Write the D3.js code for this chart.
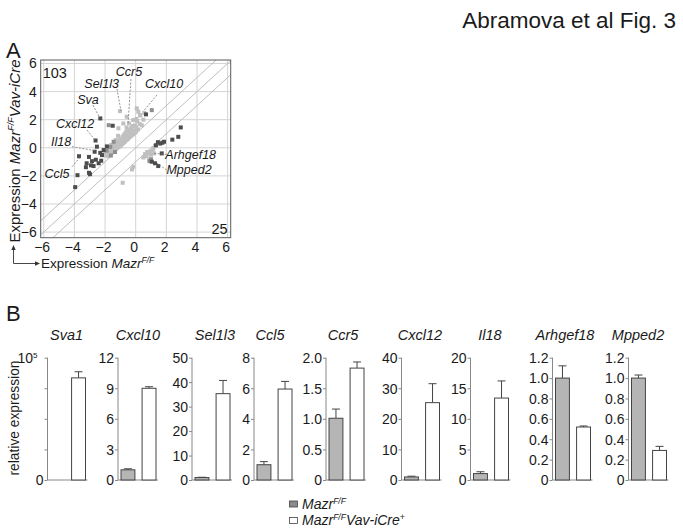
<!DOCTYPE html>
<html><head><meta charset="utf-8">
<script src="https://cdn.jsdelivr.net/npm/d3@7"></script>
<style>
body{margin:0;background:#fff}
svg{font-family:Arial,"Liberation Sans",Helvetica,sans-serif}
</style>
</head><body>
<svg id="c" width="683" height="532"></svg>
<script>
// ---------- Panel A data ----------
const scatterTicks = [-6, -4, -2, 0, 2, 4, 6];
const diagonalOffsets = [-1, 0, 1];
const darkPoints = [
  [-2.31,2.09],[-2.62,0.52],[-2.53,0.08],[-2.68,-0.28],[-2.31,-0.36],[-2.09,-0.16],
  [-3.70,-0.60],[-3.05,-0.65],[-3.20,-1.10],[-2.92,-1.25],[-3.25,-1.38],[-3.05,-1.78],
  [-2.98,-1.88],[-3.80,-1.95],[-3.95,-2.80],[-2.75,-1.30],[-2.42,-1.10],[-2.25,-0.92],
  [-2.60,-0.85],[-2.85,-0.95],[-2.20,-0.52],[-1.88,0.10],[-1.50,1.57],[0.67,2.38],
  [2.94,1.45],[2.78,0.78],[2.39,0.58],[1.85,0.43],[1.74,0.36],[1.60,0.30],[1.45,0.40],[1.32,0.18],
  [1.05,-0.99],[1.26,-1.10],[1.47,-1.30],[1.70,-0.40]
];
const midPoints = [
  [1.05,2.68],[-1.76,1.61],[-1.90,-0.20],[-1.62,-0.55],[-1.35,-0.30],[1.00,-0.82],[0.90,-0.95],
  [-1.44,0.43],[-1.66,0.07]
];
const lightPoints = [
  [-1.95,-0.55],[-1.85,-0.40],[-1.80,-0.60],[-1.75,-0.30],[-1.70,-0.45],[-1.65,-0.20],[-1.60,-0.35],
  [-1.55,-0.05],[-1.50,-0.25],[-1.50,0.10],[-1.45,-0.10],[-1.40,0.05],[-1.35,0.25],[-1.35,-0.15],
  [-1.30,0.10],[-1.25,0.30],[-1.20,0.00],[-1.20,0.20],[-1.15,0.40],[-1.10,0.15],[-1.05,0.30],
  [-1.05,0.55],[-1.00,0.10],[-0.95,0.40],[-0.95,0.65],[-0.90,0.25],[-0.85,0.50],[-0.85,0.80],
  [-0.80,0.35],[-0.75,0.60],[-0.75,0.95],[-0.70,0.45],[-0.65,0.75],[-0.65,1.10],[-0.60,0.55],
  [-0.55,0.85],[-0.55,1.20],[-0.50,0.65],[-0.45,0.95],[-0.45,1.30],[-0.40,0.75],[-0.35,1.05],
  [-0.30,1.40],[-0.30,0.85],[-0.25,1.15],[-0.20,1.55],[-0.15,0.95],[-0.10,1.25],[-0.05,1.60],
  [0.00,1.10],[0.05,1.45],[0.10,1.90],[0.15,1.30],[0.25,1.70],[0.30,2.30],[-0.16,1.97],
  [-0.81,1.73],[-0.44,1.73],[-1.03,2.61],[0.56,2.49],[0.28,2.33],[-1.15,0.85],[-1.30,0.55],
  [-1.60,0.20],[-1.85,-0.10],[-2.00,-0.30],[-0.60,1.45],[0.40,1.60],[0.50,2.00],
  [0.07,2.81],[0.17,2.57],[-0.59,2.21],[-1.13,1.39],[0.05,2.05],
  [-0.24,-1.54],[-0.16,-1.35],[-0.85,-2.49],
  [1.26,0.12],[1.15,-0.05],[0.98,-0.28],[0.83,-0.40],[0.61,-0.45],[0.50,-0.69],[0.89,-0.83],
  [0.70,-0.60],[1.00,-0.50],[1.10,-0.20],[0.75,-0.30],[1.20,-0.40],[0.93,-0.39]
];
const countUp = "103";
const countDown = "25";
// annotations: gene, label position, leader start, leader end (data units)
const annGenes = ["Ccr5","Sel1l3","Cxcl10","Sva","Cxcl12","Il18","Ccl5","Arhgef18","Mpped2"];
const annLabel = [[-0.44,5.39],[-2.22,4.59],[1.85,4.54],[-3.11,3.40],[-3.96,1.74],[-4.87,0.43],[-5.14,-1.82],[3.59,-0.51],[3.48,-1.53]];
const annFrom  = [[-0.31,4.89],[-1.22,4.18],[1.39,3.76],[-2.79,3.04],[-3.18,1.27],[-4.16,0.08],[-4.16,-1.35],[2.02,-0.46],[2.02,-1.58]];
const annTo    = [[-0.50,1.69],[-0.96,2.62],[0.50,2.60],[-2.36,2.15],[-2.66,0.55],[-2.54,-0.23],[-3.63,-0.68],[1.20,-0.40],[1.37,-1.07]];

// ---------- Panel B data ----------
const barGenes   = ["Sva1","Cxcl10","Sel1l3","Ccl5","Ccr5","Cxcl12","Il18","Arhgef18","Mpped2"];
const ctrlValues = [1, 1.0, 1.0, 1.0, 1.01, 1.0, 1.05, 1.0, 1.0];
const ctrlErrors = [0, 0.1, 0.12, 0.2, 0.15, 0.25, 0.3, 0.12, 0.03];
const koValues   = [83500, 9.0, 35.3, 5.95, 1.83, 25.3, 13.4, 0.52, 0.29];
const koErrors   = [5000, 0.15, 5.4, 0.5, 0.1, 6.2, 2.8, 0.01, 0.04];
const barTicks = [
  [0,25000,50000,75000,100000],[0,3,6,9,12],[0,10,20,30,40,50],[0,2,4,6,8],
  [0,0.5,1,1.5,2],[0,10,20,30,40],[0,5,10,15,20],[0,0.2,0.4,0.6,0.8,1,1.2],[0,0.2,0.4,0.6,0.8,1,1.2]
];
const barTickLabels = [
  ["0","","","","10^5"],["0","3","6","9","12"],["0","10","20","30","40","50"],["0","2","4","6","8"],
  ["0","0.5","1.0","1.5","2.0"],["0","10","20","30","40"],["0","5","10","15","20"],
  ["0","0.2","0.4","0.6","0.8","1.0","1.2"],["0","0.2","0.4","0.6","0.8","1.0","1.2"]
];
const groups = ["ctrl","ko"];
const legendLabels = ["Mazr","Mazr"];

// ---------- layout ----------
const svg = d3.select("#c");
const textCol = "#1a1a1a";

svg.append("text").attr("x",676).attr("y",28).attr("text-anchor","end")
  .attr("font-size",22.5).attr("fill",textCol).text("Abramova et al Fig. 3");
svg.append("text").attr("x",6).attr("y",58).attr("font-size",22).attr("fill",textCol).text("A");
svg.append("text").attr("x",6).attr("y",321).attr("font-size",22).attr("fill",textCol).text("B");

// ---------- Scatter ----------
const x = d3.scaleLinear().domain([-6.2,6.2]).range([40.7,230.7]);
const y = d3.scaleLinear().domain([-6.4,6.25]).range([237.7,60]);
const gA = svg.append("g");

gA.selectAll(".gx").data(scatterTicks).join("line")
  .attr("x1",d=>x(d)).attr("x2",d=>x(d)).attr("y1",y(6.25)).attr("y2",y(-6.4))
  .attr("stroke","#d4d4d4").attr("stroke-width",1);
gA.selectAll(".gy").data(scatterTicks).join("line")
  .attr("y1",d=>y(d)).attr("y2",d=>y(d)).attr("x1",x(-6.2)).attr("x2",x(6.2))
  .attr("stroke","#d4d4d4").attr("stroke-width",1);

const [xd0,xd1] = x.domain(), [yd0,yd1] = y.domain();
gA.selectAll(".diag").data(diagonalOffsets).join("line")
  .each(function(k){
    const a = Math.max(xd0, yd0 - k), b = Math.min(xd1, yd1 - k);
    d3.select(this).attr("x1",x(a)).attr("y1",y(a+k)).attr("x2",x(b)).attr("y2",y(b+k));
  })
  .attr("stroke","#b8b8b8").attr("stroke-width",0.9);

const ps = 4;
function drawPts(arr, col){
  gA.append("g").selectAll("rect").data(arr).join("rect")
    .attr("x",d=>x(d[0])-ps/2).attr("y",d=>y(d[1])-ps/2)
    .attr("width",ps).attr("height",ps).attr("fill",col);
}
drawPts(lightPoints,"#c0c0c0");
drawPts(midPoints,"#8f8f8f");
drawPts(darkPoints,"#4d4d4d");

gA.append("rect").attr("x",x(-6.2)).attr("y",y(6.25))
  .attr("width",x(6.2)-x(-6.2)).attr("height",y(-6.4)-y(6.25))
  .attr("fill","none").attr("stroke","#5a5a5a").attr("stroke-width",1);

const xAxis = d3.axisBottom(x).tickValues(scatterTicks).tickSize(0).tickPadding(4).tickFormat(d3.format("d"));
const yAxis = d3.axisLeft(y).tickValues(scatterTicks).tickSize(0).tickPadding(4).tickFormat(d3.format("d"));
const ax = gA.append("g").attr("transform",`translate(0,${y(-6.4)})`).call(xAxis);
const ay = gA.append("g").attr("transform",`translate(${x(-6.2)},0)`).call(yAxis);
[ax,ay].forEach(a=>{a.select(".domain").remove();
  a.selectAll("text").attr("font-size",14).attr("fill",textCol).attr("font-family","Arial,'Liberation Sans',sans-serif");});
ax.selectAll("text").attr("dx","-0.15em");

gA.append("text").attr("x",x(-6.2)+2).attr("y",y(6.25)+18).attr("font-size",14.5).attr("fill",textCol).text(countUp);
gA.append("text").attr("x",x(6.2)-3).attr("y",y(-6.4)-4).attr("text-anchor","end").attr("font-size",14.5).attr("fill",textCol).text(countDown);

annGenes.forEach((g,i)=>{
  gA.append("line").attr("x1",x(annFrom[i][0])).attr("y1",y(annFrom[i][1]))
    .attr("x2",x(annTo[i][0])).attr("y2",y(annTo[i][1]))
    .attr("stroke","#777").attr("stroke-width",0.8).attr("stroke-dasharray","2,1.5");
  gA.append("text").attr("x",x(annLabel[i][0])).attr("y",y(annLabel[i][1])).attr("dy","0.35em")
    .attr("text-anchor","middle").attr("font-size",12.5).attr("font-style","italic").attr("fill",textCol).text(g);
});

const yl = gA.append("text").attr("transform",`translate(20,151) rotate(-90)`)
  .attr("text-anchor","middle").attr("font-size",15).attr("fill",textCol);
yl.append("tspan").text("Expression ");
yl.append("tspan").attr("font-style","italic").text("Mazr");
yl.append("tspan").attr("font-style","italic").attr("font-size",9).attr("dy",-6).text("F/F");
yl.append("tspan").attr("font-style","italic").attr("dy",6).text("Vav-iCre");

const xl = gA.append("text").attr("x",41).attr("y",268).attr("font-size",13.5).attr("fill",textCol);
xl.append("tspan").text("Expression ");
xl.append("tspan").attr("font-style","italic").text("Mazr");
xl.append("tspan").attr("font-style","italic").attr("font-size",8.5).attr("dy",-5).text("F/F");
gA.append("path").attr("d","M13.5,249 V263.5 H36").attr("fill","none").attr("stroke","#333").attr("stroke-width",0.9);
gA.append("path").attr("d","M13.5,245 L11.3,250 L15.7,250 Z").attr("fill","#333");
gA.append("path").attr("d","M40,263.5 L35,261.3 L35,265.7 Z").attr("fill","#333");

// ---------- Bars ----------
const panelAxisX = [47.5, 118, 192, 254, 326, 401.5, 470.5, 552.5, 628.5];
const titleOffset = [19, 20, 23, 16, 17, 18.5, 19.5, 12.5, 9.5];
const barTop = 357.7, barBottom = 480;
const gB = svg.append("g");

gB.append("text").attr("transform",`translate(19,418) rotate(-90)`).attr("text-anchor","middle")
  .attr("font-size",13.8).attr("fill",textCol).text("relative expression");

barGenes.forEach((g,i)=>{
  const ax0 = panelAxisX[i];
  const ticks = barTicks[i];
  const ys = d3.scaleLinear().domain([0, ticks[ticks.length-1]]).range([barBottom, barTop]);
  const xb = d3.scaleBand().domain(groups).range([ax0+3, ax0+38]).paddingInner(0.34).paddingOuter(0);
  const p = gB.append("g");
  p.append("text").attr("x",ax0+titleOffset[i]).attr("y",340).attr("text-anchor","middle")
    .attr("font-size",14.5).attr("font-style","italic").attr("fill",textCol).text(g);
  const yA = d3.axisLeft(ys).tickValues(ticks).tickSize(3).tickPadding(3).tickFormat(()=>"");
  const a = p.append("g").attr("transform",`translate(${ax0},0)`).call(yA);
  a.select(".domain").attr("stroke","#888").attr("d",`M0,${barTop}V${barBottom}`);
  a.selectAll(".tick line").attr("stroke","#888");
  a.selectAll(".tick").each(function(d,j){
    const lab = barTickLabels[i][j];
    if(!lab) return;
    const t = d3.select(this).append("text").attr("x",-4).attr("dy","0.35em").attr("text-anchor","end")
      .attr("font-size",14).attr("fill",textCol).attr("font-family","Arial,'Liberation Sans',sans-serif");
    if(lab.includes("^")){
      const [b,e] = lab.split("^");
      t.attr("x",-10).append("tspan").text(b);
      t.append("tspan").attr("font-size",8).attr("dy",-5).text(e);
    } else t.text(lab);
  });
  p.append("line").attr("x1",ax0).attr("x2",ax0+40).attr("y1",barBottom).attr("y2",barBottom)
    .attr("stroke","#888").attr("stroke-width",1);
  const vals = [ctrlValues[i], koValues[i]];
  const errs = [ctrlErrors[i], koErrors[i]];
  groups.forEach((grp,k)=>{
    const bx = xb(grp), bw = xb.bandwidth();
    const top = ys(vals[k]);
    if (errs[k] > 0) {
      const et = ys(vals[k]+errs[k]);
      p.append("line").attr("x1",bx+bw/2).attr("x2",bx+bw/2).attr("y1",top).attr("y2",et).attr("stroke","#444").attr("stroke-width",1);
      p.append("line").attr("x1",bx+bw/2-4).attr("x2",bx+bw/2+4).attr("y1",et).attr("y2",et).attr("stroke","#444").attr("stroke-width",1);
    }
    if (barBottom - top > 0.5) {
      p.append("rect").attr("x",bx).attr("y",top).attr("width",bw).attr("height",barBottom-top)
        .attr("fill",k===0?"#b5b5b5":"#fff").attr("stroke","#444").attr("stroke-width",1);
    }
  });
});

// legend
const lg = svg.append("g");
[0,1].forEach(k=>{
  const yy = 501 + k*16.5;
  lg.append("rect").attr("x",289.5).attr("y",yy).attr("width",8).attr("height",6)
    .attr("fill",k===0?"#8a8a8a":"#fff").attr("stroke","#444").attr("stroke-width",0.8);
  const t = lg.append("text").attr("x",302).attr("y",yy+7.5).attr("font-size",14)
    .attr("font-style","italic").attr("fill",textCol);
  t.append("tspan").text(legendLabels[k]);
  t.append("tspan").attr("font-size",8.5).attr("dy",-5).text("F/F");
  if(k===1){
    t.append("tspan").attr("dy",5).text("Vav-iCre");
    t.append("tspan").attr("font-size",8.5).attr("dy",-5).text("+");
  }
});
</script>
</body></html>
